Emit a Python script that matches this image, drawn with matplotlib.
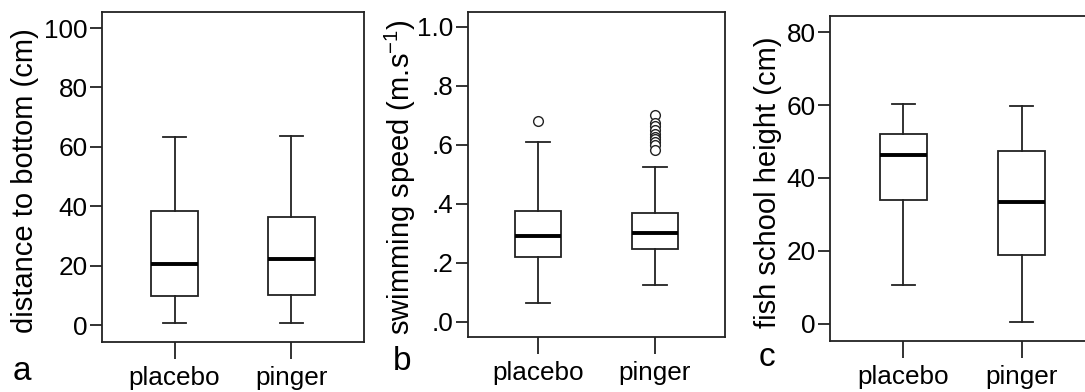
import matplotlib
matplotlib.use('Agg')
from matplotlib import pyplot as plt
from matplotlib.ticker import FixedLocator, FixedFormatter

plt.rcParams['font.family'] = ['Liberation Sans', 'DejaVu Sans']
plt.rcParams['mathtext.default'] = 'regular'

groups = ['placebo', 'pinger']

# panel a: distance to bottom (cm)
dist_lo = [0.8, 0.8]
dist_q1 = [9.8, 10.2]
dist_med = [20.5, 22.3]
dist_q3 = [38.3, 36.5]
dist_hi = [63.4, 63.7]
dist_fliers = [[], []]

# panel b: swimming speed (m/s)
speed_lo = [0.062, 0.124]
speed_q1 = [0.220, 0.245]
speed_med = [0.291, 0.300]
speed_q3 = [0.376, 0.367]
speed_hi = [0.608, 0.525]
speed_fliers = [[0.681],
                [0.702, 0.675, 0.663, 0.650, 0.638, 0.627, 0.618, 0.610, 0.600, 0.583]]

# panel c: fish school height (cm)
school_lo = [10.7, 0.4]
school_q1 = [33.9, 18.8]
school_med = [46.2, 33.5]
school_q3 = [52.2, 47.3]
school_hi = [60.4, 59.9]
school_fliers = [[], []]

W, H = 1085, 392
fig = plt.figure(figsize=(W / 100, H / 100), dpi=100)
ink = '#222222'


def stats(lo, q1, med, q3, hi, fl):
    return [dict(whislo=lo[i], q1=q1[i], med=med[i], q3=q3[i], whishi=hi[i],
                 fliers=fl[i], label=groups[i]) for i in range(len(groups))]


def panel(px, st, ylim, ticks, ticklabels, xlim, ylabel, ylab_xy, letter, let_xy):
    left, right, top, bottom = px
    ax = fig.add_axes([left / W, (H - bottom) / H, (right - left) / W, (bottom - top) / H])
    ax.bxp(st, positions=[1, 2], widths=0.4, patch_artist=True,
           boxprops=dict(facecolor='white', edgecolor=ink, linewidth=1.3),
           medianprops=dict(color='black', linewidth=2.8),
           whiskerprops=dict(color=ink, linewidth=1.3),
           capprops=dict(color=ink, linewidth=1.3),
           capwidths=0.2,
           flierprops=dict(marker='o', markerfacecolor='white', markeredgecolor=ink,
                           markersize=7, markeredgewidth=1.0))
    ax.set_ylim(ylim)
    ax.set_xlim(xlim)
    ax.yaxis.set_major_locator(FixedLocator(ticks))
    ax.yaxis.set_major_formatter(FixedFormatter(ticklabels))
    ax.set_xticks([1, 2])
    ax.set_xticklabels(groups)
    ax.tick_params(axis='y', length=8.5, width=1.3, color=ink, pad=2, labelsize=18.8)
    ax.tick_params(axis='x', length=12, width=1.3, color=ink, pad=5, labelsize=18.8)
    for s in ax.spines.values():
        s.set_linewidth(1.3)
        s.set_color(ink)
    fig.text(ylab_xy[0] / W, 1 - ylab_xy[1] / H, ylabel, rotation=90,
             ha='center', va='center', fontsize=21)
    fig.text(let_xy[0] / W, 1 - let_xy[1] / H, letter, ha='center', va='center', fontsize=24)
    return ax


panel((102, 364, 12, 342),
      stats(dist_lo, dist_q1, dist_med, dist_q3, dist_hi, dist_fliers),
      (-5.7, 105.4), [0, 20, 40, 60, 80, 100], ['0', '20', '40', '60', '80', '100'],
      (0.38, 2.62), 'distance to bottom (cm)', (25, 181), 'a', (22, 371))

panel((468, 725, 12, 337),
      stats(speed_lo, speed_q1, speed_med, speed_q3, speed_hi, speed_fliers),
      (-0.052, 1.05), [0, 0.2, 0.4, 0.6, 0.8, 1.0], ['.0', '.2', '.4', '.6', '.8', '1.0'],
      (0.40, 2.60), 'swimming speed (m.s$^{-1}$)', (400, 177), 'b', (402, 362))

panel((830, 1095, 16, 341),
      stats(school_lo, school_q1, school_med, school_q3, school_hi, school_fliers),
      (-4.8, 84.5), [0, 20, 40, 60, 80], ['0', '20', '40', '60', '80'],
      (0.38, 2.62), 'fish school height (cm)', (768, 182), 'c', (767, 358))

fig.savefig('out.png', dpi=100)
